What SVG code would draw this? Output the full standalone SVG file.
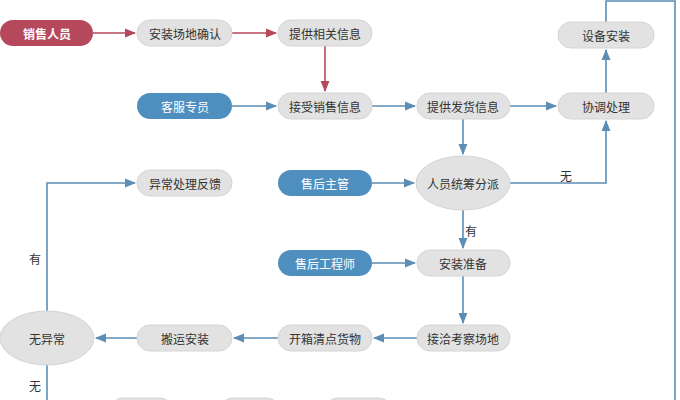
<svg xmlns="http://www.w3.org/2000/svg" width="680" height="400" viewBox="0 0 680 400">
<defs>
<marker id="ab" viewBox="0 0 10 10" refX="9" refY="5" markerWidth="7" markerHeight="7" orient="auto"><path d="M0,1 L10,5 L0,9 z" fill="#5b8db5"/></marker>
<marker id="ar" viewBox="0 0 10 10" refX="9" refY="5" markerWidth="7" markerHeight="7" orient="auto"><path d="M0,1 L10,5 L0,9 z" fill="#b5495b"/></marker>
<style>
text{font-family:"Noto Sans CJK SC","Liberation Sans",sans-serif;font-size:12px;text-anchor:middle;dominant-baseline:central;fill:#333}
.g{fill:#e2e2e2;stroke:#d4d4d4}
.r{fill:#b5495b}
.b{fill:#4f8fbf}
.w{fill:#fff}
.lb{stroke:#5b8db5;stroke-width:1.6;fill:none;marker-end:url(#ab)}
.ln{stroke:#5b8db5;stroke-width:1.6;fill:none}
.lr{stroke:#b5495b;stroke-width:1.6;fill:none;marker-end:url(#ar)}
</style>
</defs>
<rect width="680" height="400" fill="#fff"/>
<g id="connectors">
<path class="lr" d="M93,33H135"/>
<path class="lr" d="M232,33H276"/>
<path class="lr" d="M325,46V91"/>
<path class="lb" d="M232,106H276"/>
<path class="lb" d="M372,106H415"/>
<path class="lb" d="M510,106H556"/>
<path class="lb" d="M463,119V154"/>
<path class="lb" d="M606,93V50"/>
<path class="lb" d="M510,183H606V121"/>
<path class="lb" d="M372,183H414"/>
<path class="lb" d="M463,210V248"/>
<path class="lb" d="M372,263H415"/>
<path class="lb" d="M463,276V323"/>
<path class="lb" d="M417,338H374"/>
<path class="lb" d="M278,338H234"/>
<path class="lb" d="M137,338H96"/>
<path class="lb" d="M47,311V183H135"/>
<path class="ln" d="M47,365V400"/>
<path class="ln" d="M606,22V1H675V400"/>
<text x="566" y="175">无</text>
<text x="471" y="230">有</text>
<text x="35" y="258">有</text>
<text x="35" y="385">无</text>
</g>
<g id="n1"><rect class="r" x="0" y="20" width="93" height="26" rx="13"/><text x="47" y="33" class="w" style="fill:#fff;font-weight:bold">销售人员</text></g>
<g id="n2"><rect class="g" x="137" y="20" width="95" height="26" rx="13"/><text x="185" y="33">安装场地确认</text></g>
<g id="n3"><rect class="g" x="278" y="20" width="94" height="26" rx="13"/><text x="325" y="33">提供相关信息</text></g>
<g id="n4"><rect class="g" x="558" y="22" width="96" height="26" rx="13"/><text x="606" y="35">设备安装</text></g>
<g id="n5"><rect class="b" x="137" y="93" width="95" height="26" rx="13"/><text x="185" y="106" style="fill:#fff">客服专员</text></g>
<g id="n6"><rect class="g" x="278" y="93" width="94" height="26" rx="13"/><text x="325" y="106">接受销售信息</text></g>
<g id="n7"><rect class="g" x="417" y="93" width="93" height="26" rx="13"/><text x="463" y="106">提供发货信息</text></g>
<g id="n8"><rect class="g" x="558" y="93" width="96" height="26" rx="13"/><text x="606" y="106">协调处理</text></g>
<g id="n9"><rect class="g" x="137" y="170" width="95" height="26" rx="13"/><text x="185" y="183">异常处理反馈</text></g>
<g id="n10"><rect class="b" x="278" y="170" width="94" height="26" rx="13"/><text x="325" y="183" style="fill:#fff">售后主管</text></g>
<g id="n11"><ellipse class="g" cx="463" cy="183" rx="47" ry="27"/><text x="463" y="183">人员统筹分派</text></g>
<g id="n12"><rect class="b" x="278" y="250" width="94" height="26" rx="13"/><text x="325" y="263" style="fill:#fff">售后工程师</text></g>
<g id="n13"><rect class="g" x="417" y="250" width="93" height="26" rx="13"/><text x="463" y="263">安装准备</text></g>
<g id="n14"><ellipse class="g" cx="47" cy="338" rx="47" ry="27"/><text x="47" y="338">无异常</text></g>
<g id="n15"><rect class="g" x="137" y="325" width="95" height="26" rx="13"/><text x="185" y="338">搬运安装</text></g>
<g id="n16"><rect class="g" x="278" y="325" width="94" height="26" rx="13"/><text x="325" y="338">开箱清点货物</text></g>
<g id="n17"><rect class="g" x="417" y="325" width="93" height="26" rx="13"/><text x="463" y="338">接洽考察场地</text></g>
<g id="n18"><rect class="g" x="110" y="398" width="63" height="26" rx="13"/></g>
<g id="n19"><rect class="g" x="220" y="398" width="60" height="26" rx="13"/></g>
<g id="n20"><rect class="g" x="325" y="398" width="67" height="26" rx="13"/></g>
</svg>
